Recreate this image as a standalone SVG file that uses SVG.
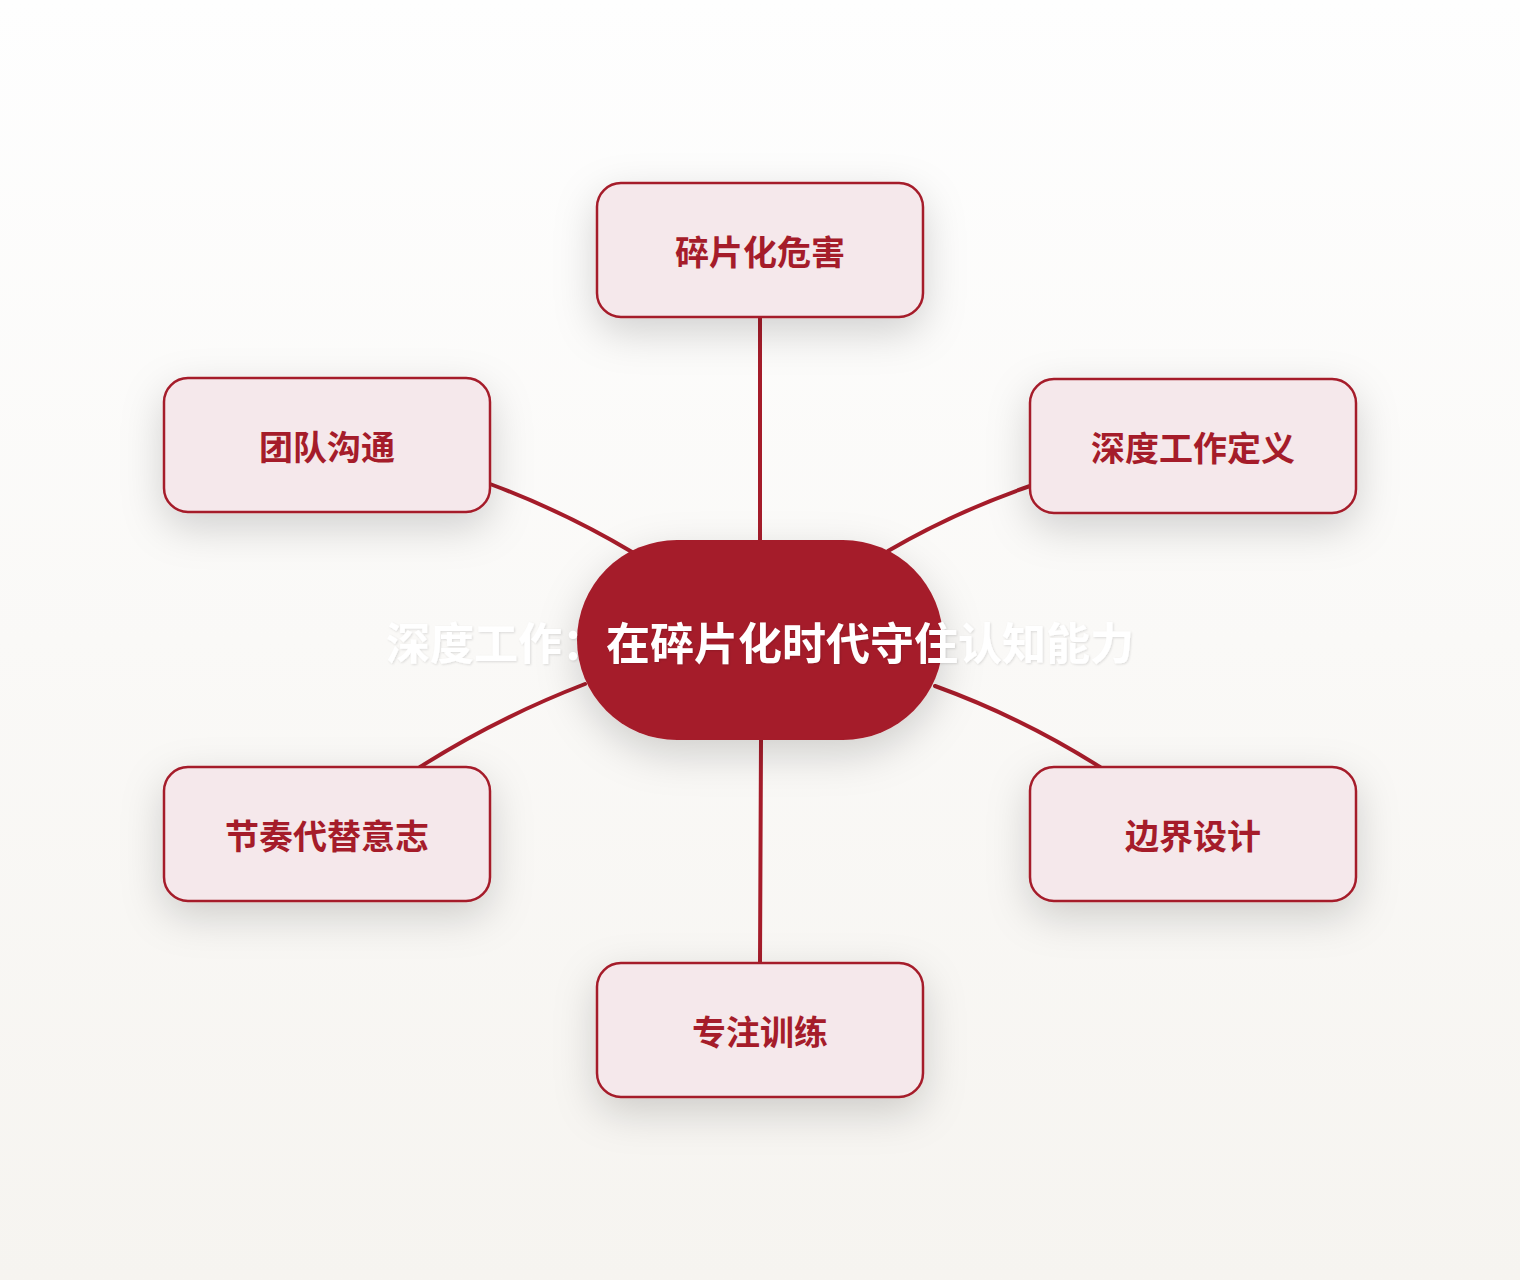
<svg xmlns="http://www.w3.org/2000/svg" width="1520" height="1280" viewBox="0 0 1520 1280">
<defs>
<linearGradient id="bg" x1="0" y1="0" x2="0" y2="1">
<stop offset="0" stop-color="#FEFEFE"/>
<stop offset="1" stop-color="#F6F4F0"/>
</linearGradient>
<filter id="sh" x="-40%" y="-40%" width="180%" height="200%">
<feDropShadow dx="0" dy="14" stdDeviation="20" flood-color="#000" flood-opacity="0.17"/>
</filter>
<filter id="tsh" x="-10%" y="-30%" width="120%" height="160%">
<feDropShadow dx="1" dy="1" stdDeviation="0.8" flood-color="#000" flood-opacity="0.12"/>
</filter>
<style>
.box{fill:#F5E8EB;stroke:#A51C2A;stroke-width:2.5;filter:url(#sh)}
.lbl{font-family:"Noto Sans CJK SC","Noto Sans",sans-serif;font-weight:700;font-size:34px;fill:#A51C2A;text-anchor:middle}
.edge{fill:none;stroke:#A51C2A;stroke-width:4;stroke-linecap:round}
.title{font-family:"Noto Sans CJK SC","Noto Sans",sans-serif;font-weight:700;font-size:44px;fill:#FFFFFF;text-anchor:middle;filter:url(#tsh)}
</style>
</defs>
<rect x="0" y="0" width="1520" height="1280" fill="url(#bg)"/>
<g id="connectors">
<path class="edge" d="M760 540 L760 317"/>
<path class="edge" d="M761 740 L760 963"/>
<path class="edge" d="M632 552 Q565 512 490 484"/>
<path class="edge" d="M888 551 Q955 512 1030 486"/>
<path class="edge" d="M585 684 Q497 718 420 767"/>
<path class="edge" d="M935 686 Q1023 718 1100 767"/>
</g>
<g id="n1"><rect class="box" x="597" y="183" width="326" height="134" rx="24"/><text class="lbl" x="760" y="265">碎片化危害</text></g>
<g id="n2"><rect class="box" x="164" y="378" width="326" height="134" rx="24"/><text class="lbl" x="327" y="460">团队沟通</text></g>
<g id="n3"><rect class="box" x="1030" y="379" width="326" height="134" rx="24"/><text class="lbl" x="1193" y="461">深度工作定义</text></g>
<g id="n4"><rect class="box" x="164" y="767" width="326" height="134" rx="24"/><text class="lbl" x="327" y="849">节奏代替意志</text></g>
<g id="n5"><rect class="box" x="1030" y="767" width="326" height="134" rx="24"/><text class="lbl" x="1193" y="849">边界设计</text></g>
<g id="n6"><rect class="box" x="597" y="963" width="326" height="134" rx="24"/><text class="lbl" x="760" y="1045">专注训练</text></g>
<g id="center">
<rect x="577" y="540" width="366" height="200" rx="100" fill="#A51C2A" filter="url(#sh)"/>
<text class="title" x="760" y="660">深度工作：在碎片化时代守住认知能力</text>
</g>
</svg>
